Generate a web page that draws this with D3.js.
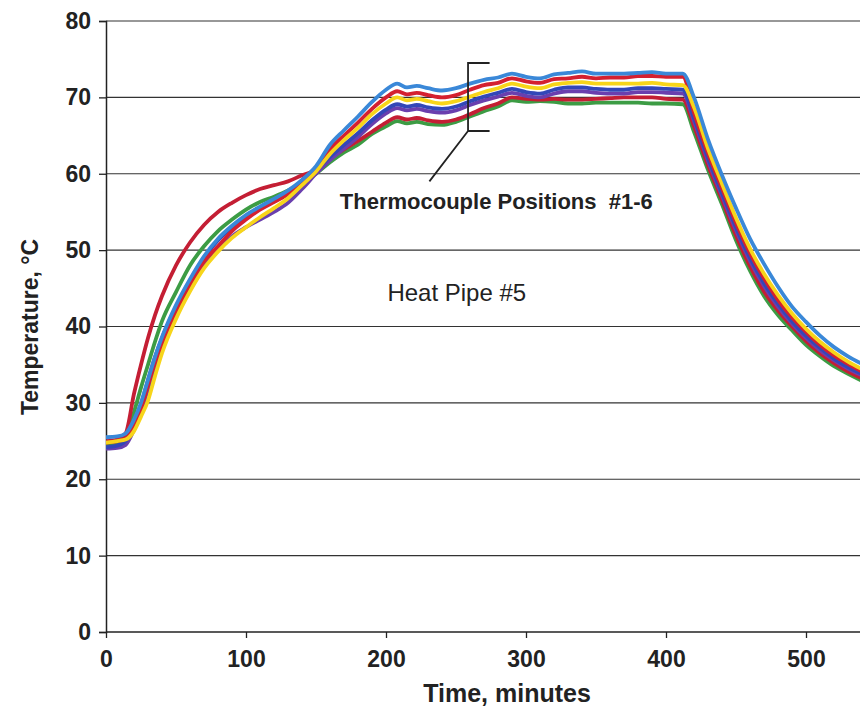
<!DOCTYPE html>
<html><head><meta charset="utf-8">
<script src="https://cdn.jsdelivr.net/npm/d3@7"></script>
<style>
body{margin:0;background:#fff;}
svg{display:block;font-family:"Liberation Sans",Arial,sans-serif;}
</style></head>
<body><svg id="c" width="860" height="709"></svg>
<script>
const time = [0, 8, 14, 20, 25, 30, 35, 40, 50, 60, 70, 80, 90, 100, 110, 120, 130, 140,
  150, 160, 170, 180, 190, 200, 208, 215, 222, 230, 240, 250, 260, 270, 280, 290, 300, 310, 320, 330, 340, 350, 360, 370, 380, 390, 400, 412,
  420, 430, 440, 450, 460, 470, 480, 490, 500, 510, 520, 530, 540];

const tcSky = [25.5, 25.6, 26, 27.8, 30, 33, 36, 38.6, 42.8, 46.2, 49.2, 51.5, 53.2, 54.6, 55.7, 56.7, 57.8, 59.2,
  61, 63.8, 65.7, 67.5, 69.4, 71, 71.8, 71.3, 71.5, 71.2, 70.9, 71.2, 71.8, 72.3, 72.6, 73.1, 72.7, 72.5, 73, 73.2, 73.4, 73.1, 73.1, 73.1, 73.2, 73.3, 73.1, 73.1,
  70, 64.5, 59.8, 55.5, 51.5, 48.2, 45.2, 42.6, 40.6, 38.8, 37.3, 36.1, 35.1];
const tcRed1 = [24.8, 25, 25.3, 27, 29.3, 32.3, 35.3, 37.8, 42, 45.5, 48.5, 50.5, 52.5, 54, 55.3, 56.3, 57.3, 58.6,
  60.6, 63.2, 65.0, 66.7, 68.5, 70, 70.8, 70.4, 70.6, 70.3, 70, 70.3, 71, 71.6, 71.9, 72.5, 72.1, 71.9, 72.4, 72.5, 72.7, 72.5, 72.6, 72.6, 72.8, 72.8, 72.7, 72.7,
  68, 62.7, 58.1, 53.6, 49.6, 46.3, 43.5, 41.2, 39.3, 37.6, 36.2, 35.1, 34.1];
const tcYellow = [24.8, 25, 25.2, 26.3, 28.2, 30.3, 33.5, 36.5, 41, 44.6, 47.6, 49.8, 51.6, 53, 54.3, 55.5, 56.8, 58.5,
  60.3, 62.6, 64.4, 66, 67.8, 69.2, 70, 69.6, 69.8, 69.5, 69.2, 69.5, 70.1, 70.7, 71.2, 71.8, 71.4, 71.2, 71.7, 71.9, 72, 71.8, 71.8, 71.8, 71.8, 71.9, 71.7, 71.6,
  68.7, 63.3, 58.7, 54.2, 50.2, 46.9, 44.1, 41.7, 39.7, 38, 36.6, 35.4, 34.4];
const tcRoyal = [24.2, 24.4, 25, 27.5, 29.8, 33, 36, 38.5, 42.5, 46, 49, 51.3, 53, 54.5, 55.6, 56.5, 57.5, 58.8,
  60.5, 62.2, 63.8, 65.3, 67, 68.4, 69.1, 68.8, 69, 68.7, 68.5, 68.8, 69.5, 70.1, 70.6, 71.1, 70.7, 70.5, 71, 71.3, 71.3, 71.1, 71, 71, 71.2, 71.2, 71.1, 71,
  67.3, 62.1, 57.5, 53, 49, 45.7, 43, 40.7, 38.8, 37.2, 35.8, 34.7, 33.8];
const tcPurple = [24, 24.1, 24.5, 26.5, 28.8, 31.8, 34.8, 37.2, 41.3, 44.8, 47.8, 50, 51.8, 53, 54, 55, 56.2, 58,
  60, 61.8, 63.3, 64.8, 66.5, 67.9, 68.6, 68.3, 68.5, 68.2, 68, 68.3, 69, 69.6, 70.1, 70.6, 70.2, 70, 70.5, 70.8, 70.8, 70.6, 70.5, 70.5, 70.7, 70.7, 70.6, 70.5,
  66.9, 61.7, 57.1, 52.6, 48.6, 45.3, 42.6, 40.4, 38.5, 36.9, 35.6, 34.5, 33.6];
const tcRed2 = [25, 25.2, 26, 31.2, 35, 38.5, 41.5, 44, 48, 51, 53.3, 55, 56.2, 57.2, 58, 58.5, 59, 59.8,
  60.5, 62, 63.2, 64.3, 65.5, 66.7, 67.4, 67.1, 67.3, 67, 66.8, 67.1, 67.8, 68.6, 69.2, 70, 69.8, 69.7, 69.8, 69.7, 69.7, 69.8, 69.9, 70, 70, 70, 69.8, 69.7,
  66.2, 61.1, 56.6, 51.9, 47.9, 44.6, 42.1, 40, 38.1, 36.5, 35.2, 34.1, 33.2];
const tcGreen = [24.6, 24.8, 25.5, 28.8, 32, 35, 38, 40.7, 44.5, 48, 50.5, 52.5, 54, 55.3, 56.3, 57, 57.8, 58.8,
  60, 61.5, 62.8, 63.8, 65.2, 66.2, 66.9, 66.6, 66.8, 66.5, 66.4, 66.8, 67.5, 68.2, 68.8, 69.6, 69.4, 69.5, 69.4, 69.2, 69.2, 69.3, 69.3, 69.3, 69.3, 69.2, 69.2, 69.1,
  65.5, 60.5, 56, 51.3, 47.3, 44, 41.5, 39.5, 37.6, 36.1, 34.8, 33.8, 32.9];

const seriesNames = ["green", "red2", "purple", "royal", "red1", "yellow", "sky"];
const seriesValues = [tcGreen, tcRed2, tcPurple, tcRoyal, tcRed1, tcYellow, tcSky];
const seriesColors = ["#3c9c44", "#c41e34", "#6a3fae", "#3347b8", "#d42030", "#f7d51a", "#3a88d8"];

const xTicks = [0, 100, 200, 300, 400, 500];
const yTicks = [0, 10, 20, 30, 40, 50, 60, 70, 80];
const xTitle = "Time, minutes";
const yTitle = "Temperature, °C";
const label1 = "Thermocouple Positions  #1-6";
const label2 = "Heat Pipe #5";

const svg = d3.select("#c");
const x = d3.scaleLinear().domain([0, 540]).range([106, 862]);
const y = d3.scaleLinear().domain([0, 80]).range([632, 21]);

svg.append("defs").append("clipPath").attr("id","clip")
  .append("rect").attr("x",106).attr("y",0).attr("width",754).attr("height",640);

// grid
svg.append("g").selectAll("line").data(yTicks.filter(d=>d>0)).join("line")
  .attr("x1",106).attr("x2",860).attr("y1",d=>y(d)).attr("y2",d=>y(d))
  .attr("stroke","#333").attr("stroke-width",1.1);

// axes
const yAxis = d3.axisLeft(y).tickValues(yTicks).tickSize(7).tickPadding(8);
const gy = svg.append("g").attr("transform","translate(106,0)").call(yAxis);
const xAxis = d3.axisBottom(x).tickValues(xTicks).tickSize(6).tickPadding(13);
const gx = svg.append("g").attr("transform","translate(0,632)").call(xAxis);
[gy,gx].forEach(g=>{
  g.select(".domain").attr("stroke","#222").attr("stroke-width",1.5);
  g.selectAll(".tick line").attr("stroke","#222").attr("stroke-width",1.3);
  g.selectAll("text").attr("font-family","'Liberation Sans',Arial,sans-serif")
   .attr("font-size",23).attr("font-weight","bold").attr("fill","#222");
});
gx.select(".domain").attr("d","M106,0H860");

// lines
const line = d3.line().x((d,i)=>x(time[i])).y(d=>y(d)).curve(d3.curveMonotoneX);
svg.append("g").attr("clip-path","url(#clip)").selectAll("path").data(seriesValues).join("path")
  .attr("d",line).attr("fill","none")
  .attr("stroke",(d,i)=>seriesColors[i]).attr("stroke-width",3.8)
  .attr("stroke-linejoin","round").attr("stroke-linecap","round");

// titles
svg.append("text").attr("x",507).attr("y",702).attr("text-anchor","middle")
  .attr("font-size",25).attr("font-weight","bold").attr("fill","#222").text(xTitle);
svg.append("text").attr("transform","translate(38,327) rotate(-90)").attr("text-anchor","middle")
  .attr("font-size",23).attr("font-weight","bold").attr("fill","#222").text(yTitle);

// annotations
svg.append("text").attr("x",x(167)).attr("y",y(55.4)).attr("font-size",22).attr("font-weight","bold")
  .attr("fill","#222").attr("xml:space","preserve").style("white-space","pre").text(label1);
svg.append("text").attr("x",x(201)).attr("y",y(43.4)).attr("font-size",24)
  .attr("fill","#222").text(label2);

const br = d3.path();
br.moveTo(x(274), y(74.5)); br.lineTo(x(258.6), y(74.5)); br.lineTo(x(258.6), y(65.6)); br.lineTo(x(274), y(65.6));
br.moveTo(x(258.6), y(65.6)); br.lineTo(x(231), y(59));
svg.append("path").attr("d",br.toString()).attr("fill","none").attr("stroke","#222").attr("stroke-width",1.8);
</script></body></html>
